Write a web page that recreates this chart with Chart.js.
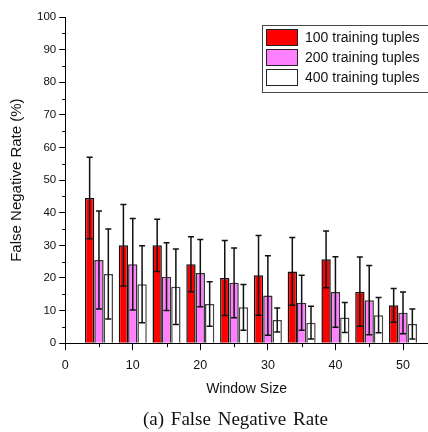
<!DOCTYPE html>
<html>
<head>
<meta charset="utf-8">
<script src="https://cdn.jsdelivr.net/npm/chart.js@4"></script>
<style>
  html, body { margin: 0; padding: 0; background: #fff; overflow: hidden; }
  #wrap { position: relative; width: 428px; height: 432px; }
  #caption {
    position: absolute; left: 143px; top: 407px;
    font-family: "Liberation Serif", "Times New Roman", serif;
    font-size: 19px; line-height: 24px; word-spacing: 2px; color: #111;
    white-space: nowrap;
  }
</style>
</head>
<body>
<div id="wrap">
  <canvas id="fnr" width="428" height="432"></canvas>
  <div id="caption">(a) False Negative Rate</div>
</div>
<script>
// window sizes on the x axis
const windowSizes = [5, 10, 15, 20, 25, 30, 35, 40, 45, 50];
// false negative rate (%) and error (+/-) per training set size
const seriesLabels = ['100 training tuples', '200 training tuples', '400 training tuples'];
const fnr100 = [44.5, 30.0, 30.0, 24.2, 20.0, 20.8, 22.0, 25.7, 15.8, 11.6];
const err100 = [12.5, 12.5, 8.0, 8.4, 11.5, 12.2, 10.4, 8.7, 10.6, 5.2];
const fnr200 = [25.5, 24.2, 20.4, 21.5, 18.5, 14.6, 12.4, 15.7, 13.2, 9.3];
const err200 = [15.0, 14.0, 10.4, 10.3, 10.7, 12.2, 8.4, 10.8, 10.6, 6.4];
const fnr400 = [21.2, 18.1, 17.3, 12.0, 11.0, 7.1, 6.3, 7.9, 8.6, 5.9];
const err400 = [13.8, 11.8, 11.6, 6.8, 7.0, 3.7, 5.0, 4.6, 5.4, 4.6];
const xMinorTicks = [5, 15, 25, 35, 45];
const yMinorTicks = [5, 15, 25, 35, 45, 55, 65, 75, 85, 95];

const FONT = '"Liberation Sans", Arial, sans-serif';
const colors = ['#ff0000', '#ff80ff', '#ffffff'];
const borders = ['#111', '#333', '#444'];
const errors = [err100, err200, err400];

function points(vals) {
  return windowSizes.map((x, i) => ({x: x, y: vals[i]}));
}

const errorBars = {
  id: 'errorBars',
  afterDatasetsDraw(chart) {
    const ctx = chart.ctx;
    const y = chart.scales.y;
    ctx.save();
    ctx.strokeStyle = '#111';
    ctx.lineWidth = 1.5;
    chart.data.datasets.forEach((ds, i) => {
      chart.getDatasetMeta(i).data.forEach((bar, j) => {
        const v = ds.data[j].y, e = errors[i][j];
        const top = y.getPixelForValue(v + e), bot = y.getPixelForValue(v - e);
        ctx.beginPath();
        ctx.moveTo(bar.x, top); ctx.lineTo(bar.x, bot);
        ctx.moveTo(bar.x - 3, top); ctx.lineTo(bar.x + 3, top);
        ctx.moveTo(bar.x - 3, bot); ctx.lineTo(bar.x + 3, bot);
        ctx.stroke();
      });
    });
    ctx.restore();
  }
};

const minorTicks = {
  id: 'minorTicks',
  afterDraw(chart) {
    const ctx = chart.ctx, xs = chart.scales.x, ys = chart.scales.y;
    ctx.save();
    ctx.strokeStyle = '#000';
    ctx.lineWidth = 1;
    ctx.beginPath();
    xMinorTicks.forEach(v => {
      const px = Math.round(xs.getPixelForValue(v)) + 0.5;
      ctx.moveTo(px, xs.top); ctx.lineTo(px, xs.top + 4);
    });
    yMinorTicks.forEach(v => {
      const py = Math.round(ys.getPixelForValue(v)) + 0.5;
      ctx.moveTo(ys.right, py); ctx.lineTo(ys.right - 3, py);
    });
    ctx.stroke();
    ctx.restore();
  }
};

const boxLegend = {
  id: 'boxLegend',
  afterDraw(chart) {
    const ctx = chart.ctx;
    ctx.save();
    ctx.strokeStyle = '#444';
    ctx.lineWidth = 1;
    ctx.strokeRect(262.5, 25.5, 180, 67);
    ctx.font = '14px ' + FONT;
    ctx.textBaseline = 'middle';
    chart.data.datasets.forEach((ds, i) => {
      const top = 29 + i * 20;
      ctx.fillStyle = ds.backgroundColor;
      ctx.fillRect(266, top, 32, 17);
      ctx.strokeStyle = '#222';
      ctx.strokeRect(266.5, top + 0.5, 31, 16);
      ctx.fillStyle = '#111';
      ctx.fillText(ds.label, 305, top + 9);
    });
    ctx.restore();
  }
};

new Chart(document.getElementById('fnr'), {
  type: 'bar',
  data: {
    datasets: [fnr100, fnr200, fnr400].map((vals, i) => ({
      label: seriesLabels[i],
      data: points(vals),
      backgroundColor: colors[i],
      borderColor: borders[i],
      borderWidth: 1.5,
      categoryPercentage: 0.83,
      barPercentage: 1.0
    }))
  },
  options: {
    responsive: false,
    devicePixelRatio: 1,
    animation: false,
    layout: {padding: {top: 17, right: 0, left: 8, bottom: 0}},
    plugins: {legend: {display: false}, tooltip: {enabled: false}},
    scales: {
      x: {
        type: 'linear',
        min: 0,
        max: 53.7,
        offset: false,
        border: {display: true, color: '#000', width: 1},
        grid: {offset: false, drawOnChartArea: false, drawTicks: true, tickLength: 7, color: '#000'},
        ticks: {stepSize: 10, includeBounds: false, maxRotation: 0, padding: 8, color: '#111', font: {family: FONT, size: 12.5}},
        title: {display: true, text: 'Window Size', color: '#111', font: {family: FONT, size: 14}, padding: {top: 0, bottom: 34}}
      },
      y: {
        min: 0,
        max: 100,
        border: {display: true, color: '#000', width: 1},
        grid: {drawOnChartArea: false, drawTicks: true, tickLength: 6, color: '#000'},
        ticks: {stepSize: 10, padding: 3, color: '#111', font: {family: FONT, size: 11.5}},
        title: {display: true, text: 'False Negative Rate (%)', color: '#111', font: {family: FONT, size: 15}, padding: {top: 0, bottom: 8}}
      }
    }
  },
  plugins: [errorBars, minorTicks, boxLegend]
});
</script>
</body>
</html>
